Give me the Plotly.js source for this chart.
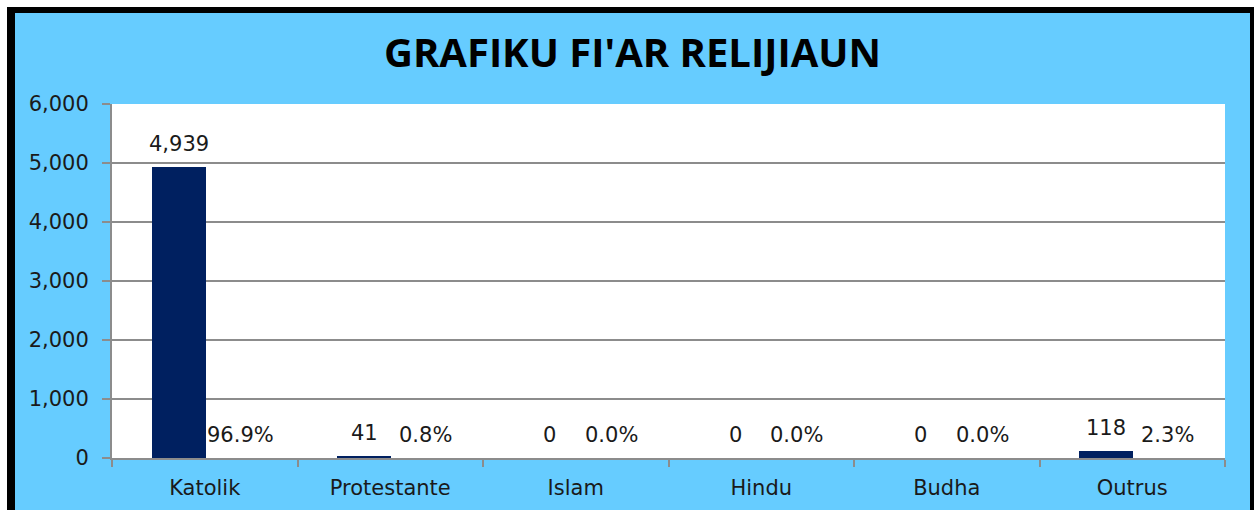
<!DOCTYPE html>
<html>
<head>
<meta charset="utf-8">
<script src="https://cdn.plot.ly/plotly-3.0.1.min.js"></script>
<style>
  html, body { margin: 0; padding: 0; background: #ffffff; width: 1254px; height: 510px; overflow: hidden; }
  #frame { position: absolute; left: 7px; top: 7px; width: 1247px; height: 503px; background: #000000; }
  #chart { position: absolute; left: 15px; top: 13px; width: 1235px; height: 497px; }
</style>
</head>
<body>
<div id="frame"></div>
<div id="chart"></div>
<script>
const categories = ["Katolik", "Protestante", "Islam", "Hindu", "Budha", "Outrus"];
const counts = [4939, 41, 0, 0, 0, 118];
const percents = [96.9, 0.8, 0.0, 0.0, 0.0, 2.3];
const titleText = "GRAFIKU FI'AR RELIJIAUN";
const yTicks = [0, 1000, 2000, 3000, 4000, 5000, 6000];

const barWidth = 0.29;
const barOffset = -0.285;
const labelFont = { family: "DejaVu Sans", size: 21, color: "#1a1a1a" };

const annotations = [];
categories.forEach(function (c, i) {
  annotations.push({
    x: i + barOffset + barWidth / 2, y: counts[i], xref: "x", yref: "y",
    text: counts[i].toLocaleString("en-US"), showarrow: false,
    yanchor: "middle", xanchor: "center", yshift: 23, font: labelFont
  });
  annotations.push({
    x: i + 0.19, y: 0, xref: "x", yref: "y",
    text: percents[i].toFixed(1) + "%", showarrow: false,
    yanchor: "middle", xanchor: "center", yshift: 23, font: labelFont
  });
});

const data = [{
  type: "bar",
  x: categories,
  y: counts,
  width: barWidth,
  offset: barOffset,
  marker: { color: "#002060", line: { width: 0 } },
  hoverinfo: "x+y"
}];

const layout = {
  width: 1235, height: 497,
  margin: { l: 97, r: 25, t: 91, b: 52 },
  paper_bgcolor: "#66CCFF",
  plot_bgcolor: "#FFFFFF",
  showlegend: false,
  title: {
    text: "<b>" + titleText + "</b>",
    font: { family: "Open Sans", size: 40, color: "#000000" },
    x: 0.5, xanchor: "center", y: 1 - 40 / 497, yanchor: "middle"
  },
  xaxis: {
    type: "category",
    range: [-0.5, 5.5],
    tickson: "boundaries",
    ticks: "outside", ticklen: 7, tickwidth: 2, tickcolor: "#8c8c8c",
    showline: true, linecolor: "#8c8c8c", linewidth: 2,
    showgrid: false, zeroline: false,
    ticklabelstandoff: 10,
    tickfont: { family: "DejaVu Sans", size: 21, color: "#1a1a1a" },
    fixedrange: true
  },
  yaxis: {
    range: [0, 6000],
    tickvals: yTicks,
    tickformat: ",",
    ticks: "outside", ticklen: 8, tickwidth: 2, tickcolor: "#8c8c8c",
    showline: true, linecolor: "#8c8c8c", linewidth: 2,
    showgrid: true, gridcolor: "#8c8c8c", gridwidth: 2,
    zeroline: false,
    ticklabelstandoff: 9,
    tickfont: { family: "DejaVu Sans", size: 21, color: "#1a1a1a" },
    fixedrange: true
  },
  annotations: annotations,
  bargap: 0
};

Plotly.newPlot("chart", data, layout, { displayModeBar: false, staticPlot: true });
</script>
</body>
</html>
